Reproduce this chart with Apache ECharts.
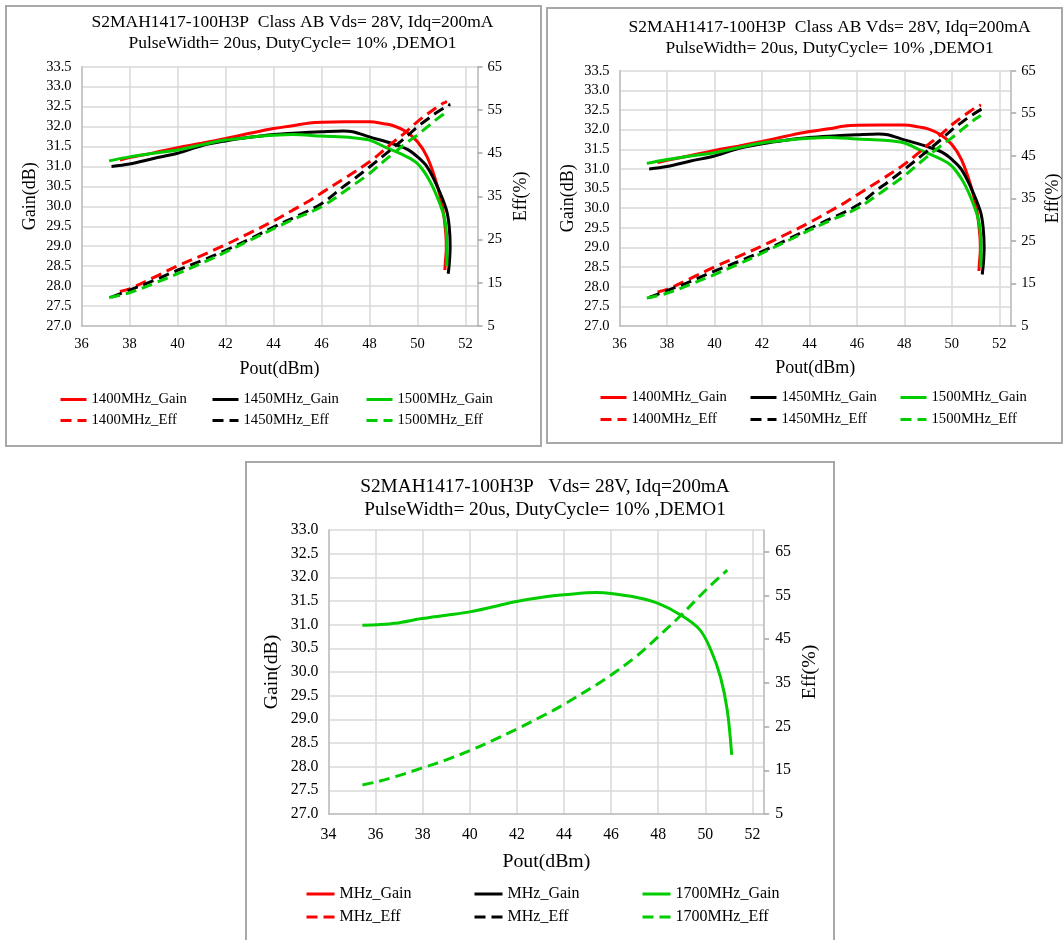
<!DOCTYPE html>
<html>
<head>
<meta charset="utf-8">
<script src="https://cdn.jsdelivr.net/npm/echarts@6/dist/echarts.min.js"></script>
<style>
  html, body { margin: 0; padding: 0; background: #fff; }
  #page { position: relative; width: 1064px; height: 940px; overflow: hidden; }
  .box { position: absolute; border: 2px solid #a8a8a8; box-sizing: border-box; }
  .layer { position: absolute; left: 0; top: 0; width: 1064px; height: 940px; }
</style>
</head>
<body>
<div id="page">
  <div class="box" style="left:5px;top:5px;width:537px;height:442px;"></div>
  <div class="box" style="left:546px;top:7px;width:517px;height:437px;"></div>
  <div class="box" style="left:245px;top:461px;width:590px;height:490px;"></div>
  <div id="c1" class="layer"></div>
  <div id="c2" class="layer"></div>
  <div id="c3" class="layer"></div>
</div>
<script>
// ---------------- data ----------------
// 1400 MHz
const pout1400 = [37.6, 38.0, 39.0, 40.0, 41.0, 42.0, 43.0, 44.0, 44.8, 45.5, 46.0, 47.0, 48.0, 48.6, 49.0, 49.5, 50.0, 50.4, 50.8, 51.05, 51.18, 51.2, 51.16, 51.14];
const gain1400 = [31.16, 31.22, 31.34, 31.47, 31.58, 31.70, 31.83, 31.95, 32.02, 32.09, 32.11, 32.12, 32.12, 32.07, 32.02, 31.88, 31.62, 31.24, 30.57, 29.95, 29.3, 28.95, 28.6, 28.4];
const eff1400  = [13.0, 13.6, 16.2, 18.9, 21.3, 23.8, 26.5, 29.3, 31.8, 34.0, 35.8, 39.3, 43.0, 45.7, 47.6, 49.8, 52.3, 54.0, 55.6, 56.5, 56.8, 56.9, 56.9, 57.0];
// 1450 MHz
const pout1450 = [37.25, 38.0, 39.0, 40.0, 41.0, 42.0, 43.0, 44.0, 45.0, 46.0, 46.9, 47.3, 48.0, 49.0, 49.6, 50.0, 50.4, 50.8, 51.2, 51.32, 51.36, 51.33, 51.28];
const gain1450 = [31.0, 31.06, 31.2, 31.33, 31.52, 31.64, 31.73, 31.8, 31.84, 31.87, 31.89, 31.87, 31.74, 31.56, 31.42, 31.24, 30.99, 30.53, 29.92, 29.5, 29.0, 28.6, 28.31];
const eff1450  = [11.7, 13.3, 15.5, 17.9, 20.1, 22.5, 25.1, 27.9, 30.5, 33.3, 37.2, 38.8, 41.8, 46.3, 49.1, 51.1, 52.8, 54.4, 55.8, 56.1, 56.2, 56.2, 56.3];
// 1500 MHz
const pout1500 = [37.15, 38.0, 39.0, 40.0, 41.0, 42.0, 43.0, 44.0, 44.8, 46.0, 47.3, 48.0, 48.7, 49.5, 50.0, 50.5, 50.93, 51.14, 51.22, 51.23, 51.22];
const gain1500 = [31.14, 31.24, 31.33, 31.41, 31.54, 31.66, 31.73, 31.78, 31.80, 31.76, 31.72, 31.66, 31.47, 31.26, 31.07, 30.65, 30.07, 29.65, 29.2, 28.8, 28.5];
const eff1500  = [11.6, 12.7, 14.8, 17.1, 19.5, 22.1, 24.8, 27.5, 29.6, 32.6, 37.5, 40.3, 43.6, 47.2, 49.2, 51.5, 53.4, 54.2, 54.5, 54.6, 54.6];
// 1700 MHz (efficiency trace ends one point earlier than the gain trace)
const pout1700 = [35.44, 36.0, 36.84, 37.96, 39.0, 40.0, 41.0, 41.98, 43.22, 44.0, 45.38, 46.0, 47.05, 48.0, 48.97, 49.77, 50.24, 50.64, 50.93, 51.12];
const gain1700 = [30.99, 31.0, 31.03, 31.13, 31.2, 31.27, 31.38, 31.49, 31.59, 31.63, 31.68, 31.66, 31.58, 31.45, 31.2, 30.89, 30.46, 29.9, 29.2, 28.25];
const eff1700  = [11.65, 12.3, 13.55, 15.5, 17.4, 19.5, 21.9, 24.4, 27.8, 30.1, 34.6, 36.8, 41.0, 45.6, 50.5, 54.9, 57.4, 59.4, 60.8];

// tick labels
const poutTicksTop = [36, 38, 40, 42, 44, 46, 48, 50, 52];
const poutTicksBottom = [34, 36, 38, 40, 42, 44, 46, 48, 50, 52];
const effTicks = [5, 15, 25, 35, 45, 55, 65];

const titleTop = 'S2MAH1417-100H3P  Class AB Vds= 28V, Idq=200mA\nPulseWidth= 20us, DutyCycle= 10% ,DEMO1';
const titleBottom = 'S2MAH1417-100H3P   Vds= 28V, Idq=200mA\nPulseWidth= 20us, DutyCycle= 10% ,DEMO1';

// ---------------- helpers ----------------
const FONT = "'Liberation Serif', 'Times New Roman', serif";
const RED = '#ff0000', BLACK = '#000000', GREEN = '#00cc00';
const DASH = [11, 6];

function zip(xs, ys) { return ys.map((y, i) => [xs[i], y]); }

function lineSeries(name, data, color, dashed, yIdx) {
  return {
    name: name, type: 'line', data: data, yAxisIndex: yIdx,
    showSymbol: false, symbol: 'none', smooth: 0.35,
    lineStyle: { color: color, width: 3, type: dashed ? DASH : 'solid' },
    itemStyle: { color: color },
    z: dashed ? 3 : 2
  };
}

function legendItem(name, dashed) {
  return {
    name: name,
    lineStyle: { type: dashed ? DASH : 'solid', width: 3 },
    itemStyle: { opacity: 0, color: 'rgba(0,0,0,0)', borderWidth: 0 }
  };
}

function buildOption(c) {
  const f = c.fs;
  const legendCols = c.legend.cols.map((col) => ({
    orient: 'vertical', left: col.left, top: c.legend.top,
    data: [legendItem(col.items[0], false), legendItem(col.items[1], true)],
    itemWidth: c.legend.iw, itemHeight: 12, itemGap: c.legend.gap,
    formatter: c.legend.formatter || undefined,
    textStyle: { fontFamily: FONT, fontSize: f.legend, color: '#000' },
    selectedMode: false, padding: 0
  }));
  return {
    animation: false,
    backgroundColor: 'transparent',
    title: {
      text: c.title, left: c.titleX, top: c.titleTop, textAlign: 'center',
      textStyle: { fontFamily: FONT, fontSize: f.title, fontWeight: 'normal', color: '#000', lineHeight: c.titleLH }
    },
    legend: legendCols,
    grid: { left: c.grid[0], top: c.grid[1], width: c.grid[2], height: c.grid[3], containLabel: false },
    xAxis: {
      type: 'value', min: c.xMin, max: 52.5, interval: 2,
      name: 'Pout(dBm)', nameLocation: 'middle', nameGap: c.xNameGap,
      nameTextStyle: { fontFamily: FONT, fontSize: f.name, color: '#000' },
      axisLine: { show: true, lineStyle: { color: '#bfbfbf', width: 1.5 } },
      axisTick: { show: false },
      axisLabel: { customValues: c.xTicks, fontFamily: FONT, fontSize: f.tick, color: '#000', margin: c.xLabelMargin },
      splitLine: { show: true, lineStyle: { color: '#d9d9d9', width: 1.5 } }
    },
    yAxis: [
      {
        type: 'value', min: 27, max: c.gainMax, interval: 0.5, position: 'left',
        name: 'Gain(dB)', nameLocation: 'middle', nameGap: c.yNameGap, nameRotate: 90,
        nameTextStyle: { fontFamily: FONT, fontSize: f.name, color: '#000' },
        axisLine: { show: true, lineStyle: { color: '#bfbfbf', width: 1.5 } },
        axisTick: { show: false },
        axisLabel: { fontFamily: FONT, fontSize: f.tick, color: '#000', margin: c.yLabelMargin,
          formatter: (v) => v.toFixed(1) },
        splitLine: { show: true, lineStyle: { color: '#d9d9d9', width: 1.5 } }
      },
      {
        type: 'value', min: 5, max: c.effMax, interval: 10, position: 'right',
        name: 'Eff(%)', nameLocation: 'middle', nameGap: c.y2NameGap, nameRotate: 90,
        nameTextStyle: { fontFamily: FONT, fontSize: f.name, color: '#000' },
        axisLine: { show: true, lineStyle: { color: '#bfbfbf', width: 1.5 } },
        axisTick: { show: true, length: 5, customValues: effTicks, lineStyle: { color: '#a6a6a6', width: 1.5 } },
        axisLabel: { customValues: effTicks, fontFamily: FONT, fontSize: f.tick, color: '#000', margin: c.y2LabelMargin },
        splitLine: { show: false }
      }
    ],
    series: c.series
  };
}

function topSeries() {
  return [
    lineSeries('1400MHz_Gain', zip(pout1400, gain1400), RED, false, 0),
    lineSeries('1450MHz_Gain', zip(pout1450, gain1450), BLACK, false, 0),
    lineSeries('1500MHz_Gain', zip(pout1500, gain1500), GREEN, false, 0),
    lineSeries('1400MHz_Eff', zip(pout1400, eff1400), RED, true, 1),
    lineSeries('1450MHz_Eff', zip(pout1450, eff1450), BLACK, true, 1),
    lineSeries('1500MHz_Eff', zip(pout1500, eff1500), GREEN, true, 1)
  ];
}

const fsTop = { title: 17.5, tick: 14.5, legend: 14.7, name: 18 };
const fsBottom = { title: 19.3, tick: 15.8, legend: 16, name: 19.8 };

const cfg1 = {
  fs: fsTop, title: titleTop, titleX: 287.5, titleTop: 7, titleLH: 21,
  grid: [81.5, 66.7, 396, 259.3], xMin: 36, xTicks: poutTicksTop, gainMax: 33.5, effMax: 65,
  xNameGap: 34, yNameGap: 42, y2NameGap: 35, xLabelMargin: 11, yLabelMargin: 10, y2LabelMargin: 10,
  legend: { top: 392, iw: 26, gap: 6, cols: [
    { left: 59, items: ['1400MHz_Gain', '1400MHz_Eff'] },
    { left: 211, items: ['1450MHz_Gain', '1450MHz_Eff'] },
    { left: 365, items: ['1500MHz_Gain', '1500MHz_Eff'] } ] },
  series: topSeries()
};

const cfg2 = {
  fs: fsTop, title: titleTop, titleX: 824.6, titleTop: 11.5, titleLH: 21,
  grid: [619.5, 70.7, 391.7, 255.3], xMin: 36, xTicks: poutTicksTop, gainMax: 33.5, effMax: 65,
  xNameGap: 33, yNameGap: 42, y2NameGap: 33, xLabelMargin: 11, yLabelMargin: 10, y2LabelMargin: 10,
  legend: { top: 390, iw: 26, gap: 7, cols: [
    { left: 599, items: ['1400MHz_Gain', '1400MHz_Eff'] },
    { left: 749, items: ['1450MHz_Gain', '1450MHz_Eff'] },
    { left: 899, items: ['1500MHz_Gain', '1500MHz_Eff'] } ] },
  series: topSeries()
};

const legendNames3 = { 'MHz_Gain_r': 'MHz_Gain', 'MHz_Gain_k': 'MHz_Gain', 'MHz_Eff_r': 'MHz_Eff', 'MHz_Eff_k': 'MHz_Eff' };
const cfg3 = {
  fs: fsBottom, title: titleBottom, titleX: 540, titleTop: 470, titleLH: 23,
  grid: [328.5, 530, 435.7, 284], xMin: 34, xTicks: poutTicksBottom, gainMax: 33.0, effMax: 70,
  xNameGap: 38, yNameGap: 47, y2NameGap: 36, xLabelMargin: 13, yLabelMargin: 10, y2LabelMargin: 11,
  legend: { top: 886, iw: 28, gap: 7, formatter: (n) => legendNames3[n] || n, cols: [
    { left: 305, items: ['MHz_Gain_r', 'MHz_Eff_r'] },
    { left: 473, items: ['MHz_Gain_k', 'MHz_Eff_k'] },
    { left: 641, items: ['1700MHz_Gain', '1700MHz_Eff'] } ] },
  series: [
    lineSeries('MHz_Gain_r', [], RED, false, 0),
    lineSeries('MHz_Gain_k', [], BLACK, false, 0),
    lineSeries('1700MHz_Gain', zip(pout1700, gain1700), GREEN, false, 0),
    lineSeries('MHz_Eff_r', [], RED, true, 1),
    lineSeries('MHz_Eff_k', [], BLACK, true, 1),
    lineSeries('1700MHz_Eff', zip(pout1700, eff1700), GREEN, true, 1)
  ]
};

[['c1', cfg1], ['c2', cfg2], ['c3', cfg3]].forEach(([id, cfg]) => {
  const chart = echarts.init(document.getElementById(id), null, { renderer: 'canvas', width: 1064, height: 940 });
  chart.setOption(buildOption(cfg));
});
</script>
</body>
</html>
